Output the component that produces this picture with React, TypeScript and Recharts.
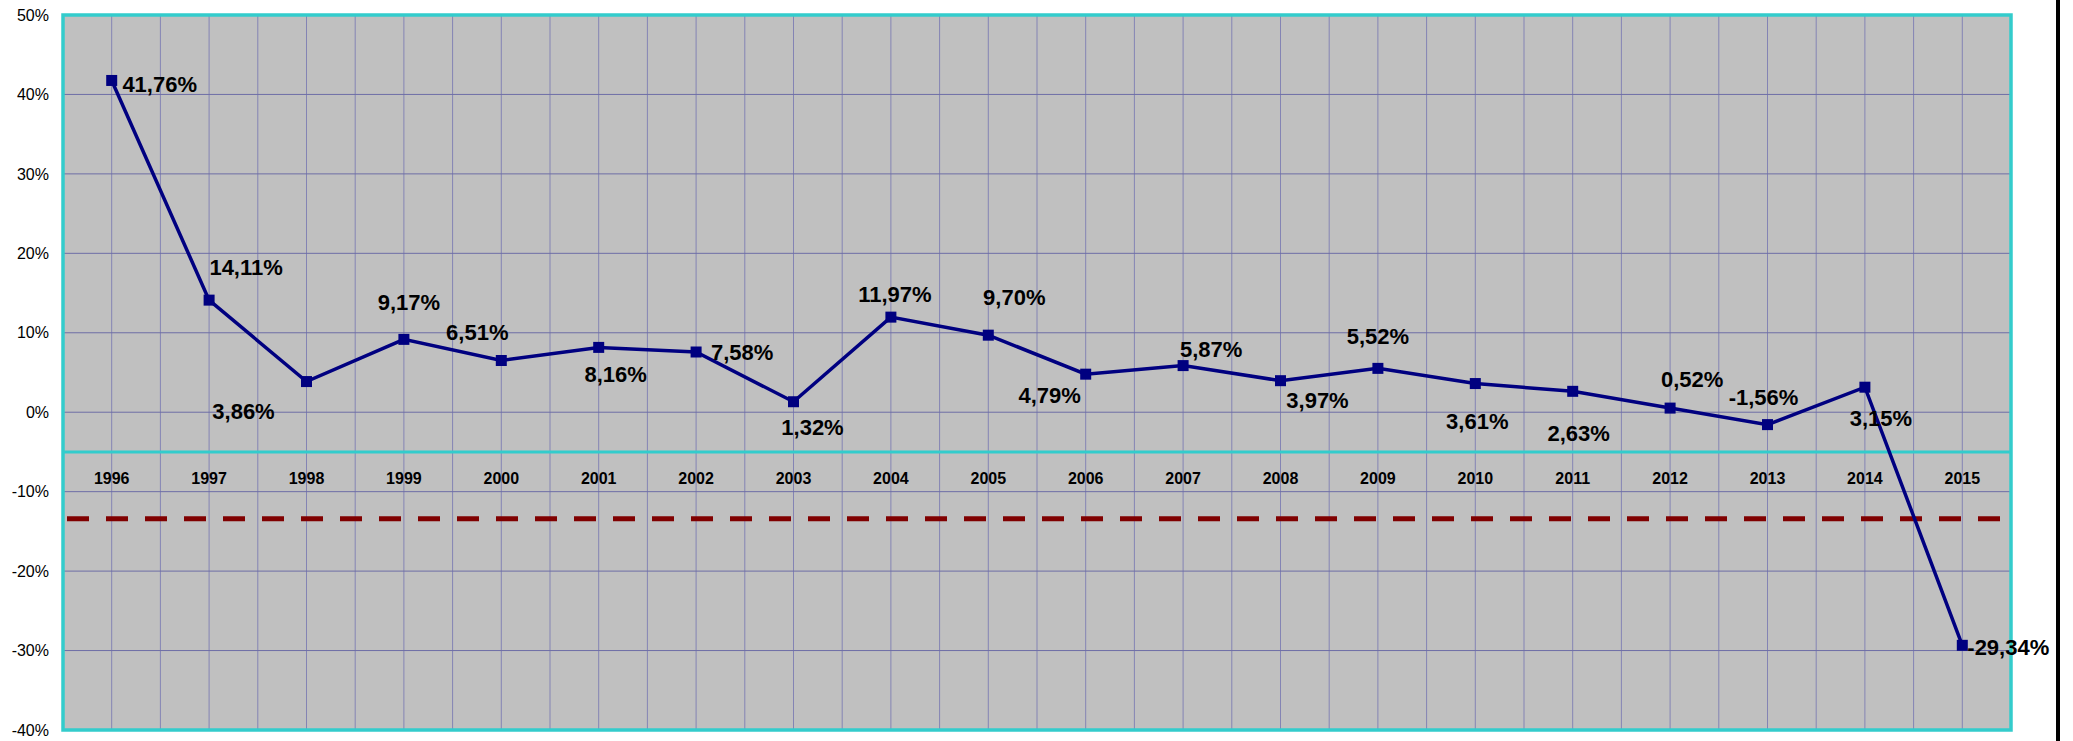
import React from 'react'
import { LineChart, Line, XAxis, YAxis, CartesianGrid, ReferenceLine, ReferenceArea, LabelList } from 'recharts'

// годы и прирост, %
const years = [1996, 1997, 1998, 1999, 2000, 2001, 2002, 2003, 2004, 2005, 2006, 2007, 2008, 2009, 2010, 2011, 2012, 2013, 2014, 2015]
const growth = [41.76, 14.11, 3.86, 9.17, 6.51, 8.16, 7.58, 1.32, 11.97, 9.7, 4.79, 5.87, 3.97, 5.52, 3.61, 2.63, 0.52, -1.56, 3.15, -29.34]
const yTicks = [-40, -30, -20, -10, 0, 10, 20, 30, 40, 50]
const axisCrossing = -5
const referenceLevel = -13.4

// смещения подписей (центр текста относительно точки)
const labelOffsets: [number, number][] = [
  [48, 4], [37, -33], [-63, 29], [5, -37], [-24, -29],
  [17, 27], [46, 0], [19, 25], [4, -23], [26, -38],
  [-36, 21], [28, -17], [37, 19], [0, -32], [2, 37],
  [6, 42], [22, -29], [-4, -28], [16, 31], [46, 2],
]

const data = years.map((year, i) => ({ year, value: growth[i], axis: axisCrossing }))
const xMin = years[0] - 0.5
const xMax = years[years.length - 1] + 0.5
const gridTicks = [...years.map((y) => y - 0.5), ...years, xMax]

const FONT = '"Liberation Sans", Arial, sans-serif'
const NAVY = '#000080'
const TEAL = '#33CCCC'

const fmt = (v: number) => v.toFixed(2).replace('.', ',') + '%'

const SquareDot = (props: any) => {
  const { cx, cy } = props
  if (cx == null || cy == null) return null
  return <rect x={cx - 5.5} y={cy - 5.5} width={11} height={11} fill={NAVY} />
}

const ValueLabel = (props: any) => {
  const { x, y, value, index } = props
  const [dx, dy] = labelOffsets[index] || [0, 0]
  return (
    <text x={x + dx} y={y + dy + 8} textAnchor="middle" fontFamily={FONT} fontWeight="bold" fontSize={22} fill="#000">
      {fmt(value)}
    </text>
  )
}

const YearLabel = (props: any) => {
  const { x, y, index } = props
  return (
    <text x={x} y={y + 32} textAnchor="middle" fontFamily={FONT} fontWeight="bold" fontSize={16} fill="#000">
      {years[index]}
    </text>
  )
}

// вертикальная сетка: границы и середины категорий
const verticalLines = ({ offset }: any) =>
  gridTicks.map((t) => offset.left + ((t - xMin) / (xMax - xMin)) * offset.width)

export default function App() {
  return (
    <div style={{ position: 'absolute', left: 0, top: 0, width: 2073, height: 741, background: '#fff', fontFamily: FONT }}>
      <LineChart width={2073} height={741} data={data} margin={{ top: 15, right: 62, bottom: 10, left: 0 }}>
        <CartesianGrid horizontal={false} stroke="#8484B4" fill="#C0C0C0" verticalCoordinatesGenerator={verticalLines} />
        <CartesianGrid vertical={false} stroke="#6E6EA6" />
        <XAxis
          type="number"
          dataKey="year"
          domain={[xMin, xMax]}
          ticks={gridTicks}
          tick={false}
          tickLine={false}
          axisLine={false}
          height={1}
        />
        <YAxis
          type="number"
          domain={[-40, 50]}
          ticks={yTicks}
          width={63}
          tickSize={0}
          tickMargin={14}
          axisLine={false}
          tickLine={false}
          tickFormatter={(v: number) => `${v}%`}
          tick={{ fontSize: 16, fill: '#000', fontFamily: FONT }}
        />
        <ReferenceLine y={axisCrossing} stroke={TEAL} strokeWidth={3} />
        <ReferenceLine y={referenceLevel} stroke="#800000" strokeWidth={5} strokeDasharray="22 17" strokeDashoffset={-4} />
        <ReferenceArea x1={xMin} x2={xMax} y1={-40} y2={50} fill="none" stroke={TEAL} strokeWidth={3.5} />
        <Line dataKey="axis" stroke="none" dot={false} activeDot={false} isAnimationActive={false}>
          <LabelList dataKey="year" content={YearLabel} />
        </Line>
        <Line
          dataKey="value"
          stroke={NAVY}
          strokeWidth={3.5}
          dot={<SquareDot />}
          activeDot={false}
          isAnimationActive={false}
        >
          <LabelList dataKey="value" content={ValueLabel} />
        </Line>
      </LineChart>
      <div style={{ position: 'absolute', left: 2056, top: 0, width: 4, height: 741, background: '#000' }} />
    </div>
  )
}
